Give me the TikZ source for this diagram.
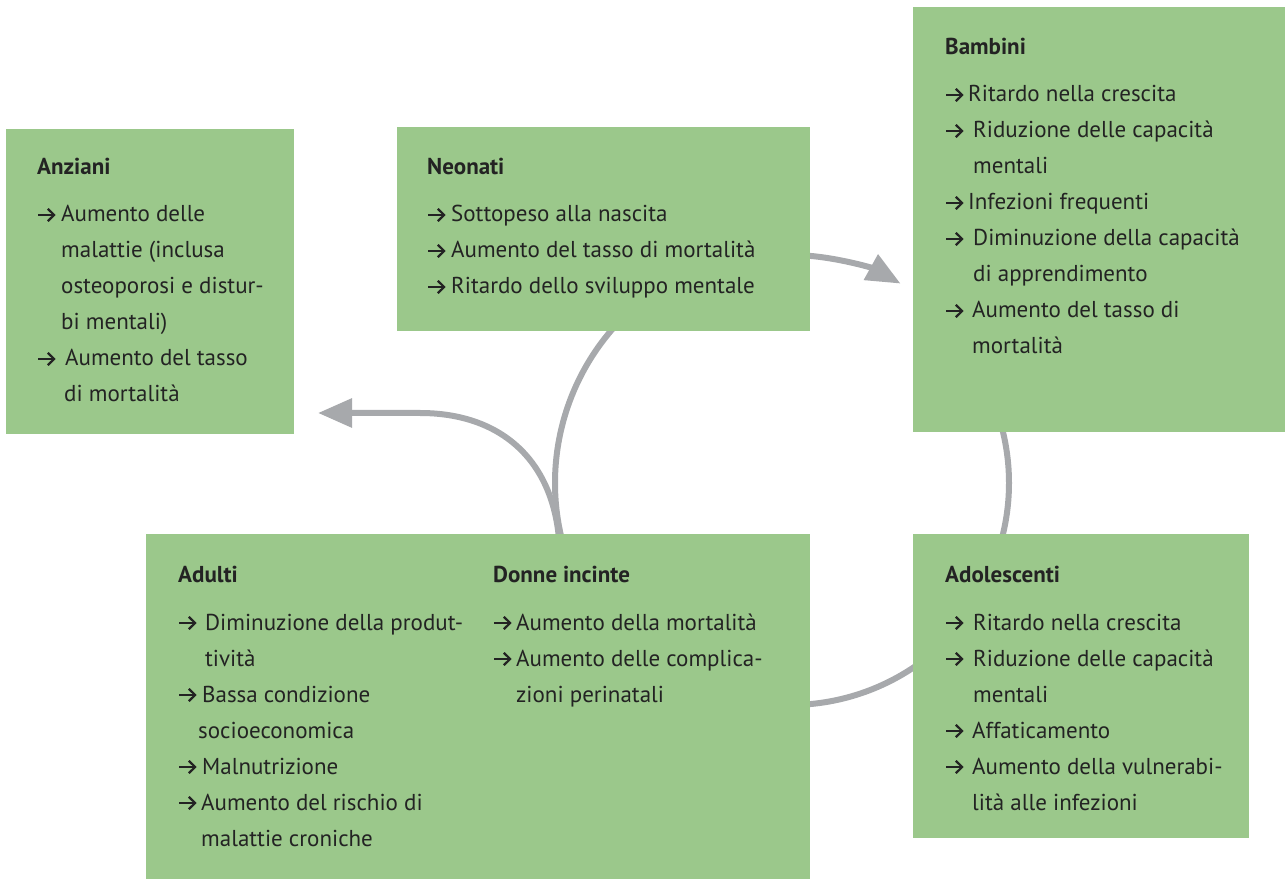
\documentclass[tikz,border=0pt]{standalone}
\usepackage{fontspec}
\setmainfont{PT Sans}
\usetikzlibrary{arrows.meta,calc,backgrounds}
\definecolor{boxgreen}{RGB}{155,200,139}
\definecolor{conngray}{RGB}{167,169,172}
\definecolor{txt}{RGB}{35,35,35}
\newcommand\arsym{\tikz[baseline=0pt,x=1pt,y=1pt]{\draw[txt,line width=2.2pt] (0,7)--(15,7);\draw[txt,line width=2.2pt,line join=miter] (9.5,13.2)--(15.8,7)--(9.5,0.8);}}
\newcommand\ar[1]{\makebox[#1pt][l]{\arsym}}
\newcommand\ind[1]{\hspace*{#1pt}}
\newcommand\block[5]{%
  \node[ttl] (#1-t) at (#2,879-#3) {#4};
  \foreach \ln [count=\i] in {#5} {\node[itm] (#1-\i) at (#2,{879-#3-47-36*(\i-1)}) {\ln};}
}
\begin{document}
\begin{tikzpicture}[x=1pt,y=1pt,
  grp/.style={fill=boxgreen,draw=none,rectangle,inner sep=0pt,outer sep=0pt},
  ttl/.style={font=\fontsize{23}{36}\selectfont\bfseries,text=txt,inner sep=0pt,anchor=base west},
  itm/.style={font=\fontsize{23}{36}\selectfont,text=txt,inner sep=0pt,anchor=base west},
  conn/.style={draw=conngray,line width=6pt},
  tip/.style={-{Triangle[length=34pt,width=28pt]}}]
\useasboundingbox (0,0) rectangle (1285,879);
% boxes
\node[grp,minimum width=288pt,minimum height=305pt] (anz) at (150,597.5) {};
\node[grp,minimum width=413pt,minimum height=204pt] (neo) at (603.5,650) {};
\node[grp,minimum width=372pt,minimum height=425pt] (bam) at (1099,659.5) {};
\node[grp,minimum width=664pt,minimum height=345pt] (adu) at (478,172.5) {};
\node[grp,minimum width=336pt,minimum height=304pt] (ado) at (1081,193) {};
% texts
\block{anzT}{37}{175}{Anziani}{{\ar{24}Aumento delle},{\ind{24}malattie (inclusa},{\ind{24}osteoporosi e distur-},{\ind{24}bi mentali)},{\ar{28}Aumento del tasso},{\ind{27}di mortalità}}
\block{neoT}{427}{175}{Neonati}{{\ar{24}Sottopeso alla nascita},{\ar{24}Aumento del tasso di mortalità},{\ar{24}Ritardo dello sviluppo mentale}}
\block{bamT}{945}{55}{Bambini}{{\ar{23}Ritardo nella crescita},{\ar{28}Riduzione delle capacità},{\ind{28}mentali},{\ar{23}Infezioni frequenti},{\ar{28}Diminuzione della capacità},{\ind{28}di apprendimento},{\ar{27}Aumento del tasso di},{\ind{27}mortalità}}
\block{aduT}{178}{583}{Adulti}{{\ar{27}Diminuzione della produt-},{\ind{27}tività},{\ar{24}Bassa condizione},{\ind{20}socioeconomica},{\ar{24}Malnutrizione},{\ar{23}Aumento del rischio di},{\ind{23}malattie croniche}}
\block{donT}{493}{583}{Donne incinte}{{\ar{23}Aumento della mortalità},{\ar{23}Aumento delle complica-},{\ind{23}zioni perinatali}}
\block{adoT}{945}{583}{Adolescenti}{{\ar{28}Ritardo nella crescita},{\ar{28}Riduzione delle capacità},{\ind{28}mentali},{\ar{27}Affaticamento},{\ar{27}Aumento della vulnerabi-},{\ind{27}lità alle infezioni}}
% connectors
\begin{scope}[on background layer]
\coordinate (cyc) at (790,396);
\coordinate (anztip) at ($(anz.east)+(24,-131.5)$);
\draw[conn,tip] ($(cyc)+(85:228)$) arc[start angle=85,end angle=61,radius=228pt];
\draw[conn] ($(cyc)+(16:219)$) arc[start angle=16,end angle=-16,radius=219pt];
\draw[conn] ($(cyc)+(-52:222)$) arc[start angle=-52,end angle=-88,radius=222pt];
\draw[conn] ($(cyc)+(136:235)$) arc[start angle=136,end angle=195,radius=235pt];
\draw[conn,tip] (559,340) .. controls (552,420) and (500,466) .. (420,466) -- (anztip);
\end{scope}
\end{tikzpicture}
\end{document}
